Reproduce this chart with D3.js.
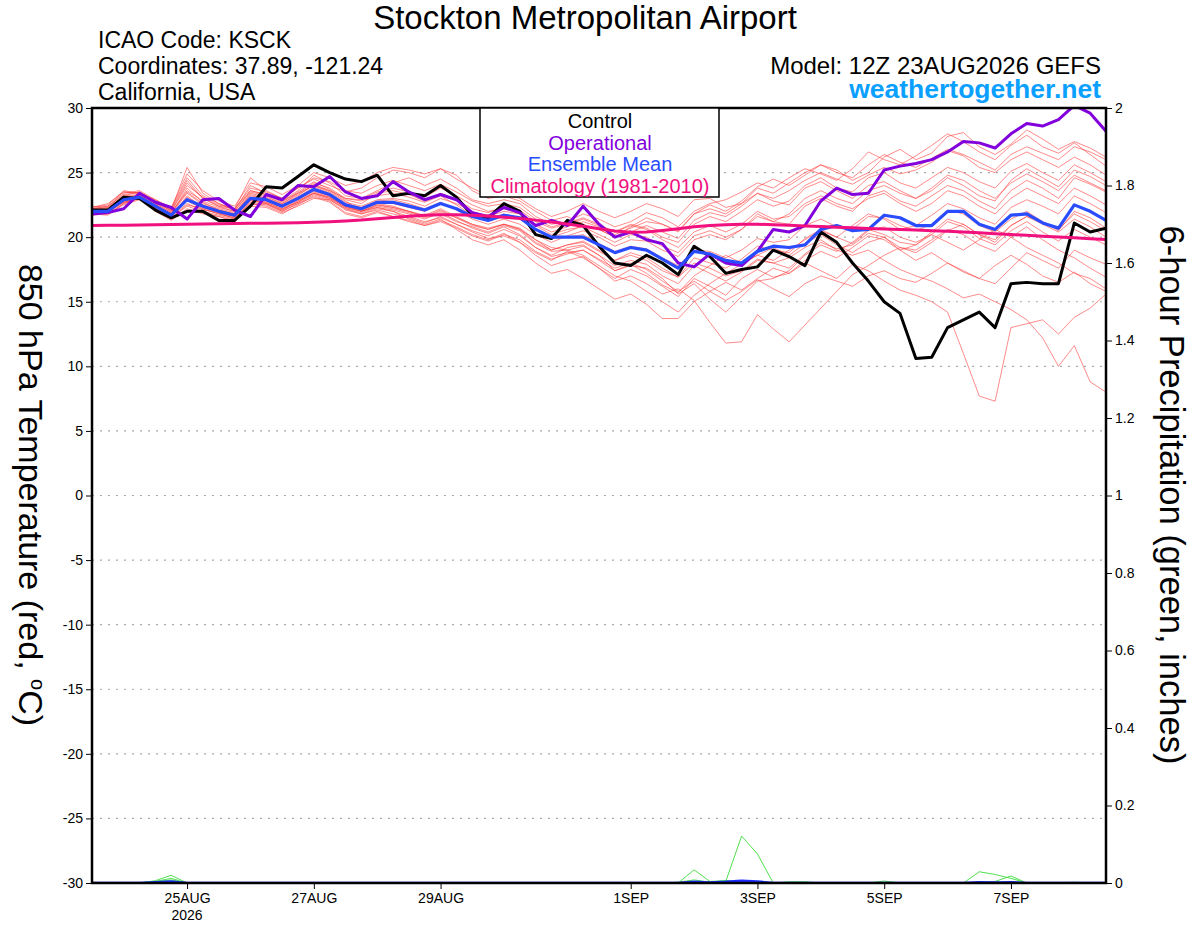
<!DOCTYPE html>
<html>
<head>
<meta charset="utf-8">
<script src="https://cdn.jsdelivr.net/npm/d3@7"></script>
<style>
  body { margin: 0; background: #fff; }
  svg { font-family: "Liberation Sans", Arial, sans-serif; }
</style>
</head>
<body>
<div id="chart"></div>
<script>
// GEFS 6-hourly run, 12Z 23AUG2026 .. 12Z 08SEP2026 (65 steps)
var runStart = Date.UTC(2026, 7, 23, 12);
var stepHours = 6;

// 850 hPa temperature, deg C
var control = [22.1,22.1,23.1,23.0,22.1,21.5,22.0,22.0,21.3,21.3,22.4,23.9,23.8,24.7,25.6,25.0,24.5,24.3,24.8,23.2,
  23.4,23.2,24.0,23.1,21.7,21.5,22.6,22.0,20.2,19.9,21.3,20.9,19.3,18.0,17.8,18.6,18.0,17.1,19.3,18.5,
  17.2,17.5,17.7,19.0,18.5,17.8,20.4,19.6,18.0,16.6,15.0,14.1,10.6,10.7,13.0,13.6,14.2,13.0,16.4,16.5,
  16.4,16.4,21.1,20.4,20.7];

var operational = [21.8,21.9,22.2,23.4,22.7,22.3,21.4,22.9,23.0,22.1,21.6,23.3,22.9,24.0,23.9,24.7,23.5,23.0,23.2,24.3,
  23.5,22.9,23.3,22.9,21.9,21.6,22.3,21.9,20.9,21.3,20.9,22.4,21.0,20.0,20.4,19.8,19.5,18.0,17.7,18.7,
  18.0,17.8,18.9,20.6,20.4,20.9,22.8,23.8,23.3,23.4,25.2,25.5,25.7,26.0,26.6,27.4,27.3,26.9,28.0,28.8,
  28.6,29.1,30.2,29.6,28.2];

var ensMean = [22.0,22.0,22.9,23.1,22.4,21.7,22.9,22.4,22.0,21.7,23.0,22.9,22.4,23.0,23.7,23.3,22.5,22.2,22.7,22.7,
  22.4,22.1,22.6,22.2,21.6,21.3,21.7,21.5,20.6,20.0,20.0,20.0,19.4,18.8,19.2,19.0,18.3,17.6,18.9,18.7,
  18.2,18.0,18.9,19.3,19.2,19.4,20.6,20.9,20.5,20.6,21.7,21.5,20.9,20.9,22.0,22.0,21.0,20.6,21.7,21.8,
  21.1,20.7,22.5,22.0,21.3];

var climatology = [20.90,20.92,20.93,20.95,20.96,20.98,21.00,21.02,21.03,21.05,21.07,21.08,21.10,21.12,21.15,21.19,21.25,21.32,21.42,21.52,
  21.62,21.70,21.74,21.74,21.70,21.63,21.55,21.45,21.32,21.18,21.02,20.85,20.65,20.47,20.38,20.40,20.52,20.66,20.80,20.90,
  20.96,21.00,21.00,20.97,20.92,20.87,20.82,20.77,20.72,20.68,20.64,20.60,20.55,20.50,20.45,20.40,20.34,20.27,20.20,20.14,
  20.08,20.02,19.95,19.88,19.82];

var m01 = [22.3,22.5,23.6,23.4,22.8,22.0,24.2,23.0,22.4,22.2,23.8,23.5,23.0,23.8,24.5,24.0,23.5,23.8,24.6,25.2,25.0,24.6,25.3,24.8,23.6,23.0,
  23.2,22.8,22.0,21.3,21.6,21.0,20.6,20.0,20.8,21.5,21.0,20.4,21.8,22.5,22.0,22.8,23.9,24.5,24.0,24.8,25.6,25.2,24.4,25.0,26.2,26.8,
  26.0,26.5,27.8,28.1,27.0,26.4,27.2,28.3,27.6,26.8,27.4,26.9,26.2];
var m02 = [21.9,21.8,22.6,23.0,22.1,21.4,22.0,21.9,21.6,21.3,22.5,22.6,22.0,22.6,23.1,22.7,21.8,21.5,21.9,21.6,21.2,20.9,21.3,20.8,20.2,19.8,
  20.3,19.6,18.8,18.2,18.9,18.4,17.6,16.8,17.5,17.0,16.2,15.4,16.8,16.2,15.5,16.8,17.5,16.9,17.2,18.0,17.4,16.8,17.9,17.4,16.6,15.9,
  15.5,15.0,14.2,11.0,7.7,7.3,13.0,13.3,13.6,12.5,13.8,14.5,15.6];
var m03 = [22.0,22.2,23.0,23.3,22.6,21.9,23.5,22.6,22.2,21.9,23.2,23.0,22.5,23.2,24.1,23.6,22.8,22.0,22.5,22.3,22.0,21.6,22.0,21.5,21.0,20.6,
  21.0,20.7,19.8,19.0,19.4,19.7,19.0,18.2,18.8,18.4,17.6,16.9,18.0,17.6,17.0,17.4,18.3,18.0,18.4,19.2,19.8,19.0,18.6,19.0,18.2,17.5,
  17.0,16.6,16.0,15.3,15.6,15.0,14.4,13.6,12.2,10.0,11.6,8.8,8.0];
var m04 = [21.8,21.9,22.7,23.0,22.2,21.5,22.5,22.2,21.8,21.5,22.6,22.4,21.9,22.4,23.0,22.9,22.2,21.8,22.2,22.0,21.6,21.2,21.5,21.0,20.4,19.9,
  20.1,19.6,18.6,17.8,18.2,18.5,17.6,16.6,17.0,16.4,15.6,16.0,15.1,13.4,11.8,11.9,14.0,12.9,11.9,13.2,14.5,15.8,17.1,17.8,18.6,19.2,
  18.8,19.6,20.5,21.0,20.2,19.8,20.9,21.6,21.2,20.6,21.8,21.2,20.5];
var m05 = [22.1,21.9,22.8,23.2,22.5,21.8,23.0,22.4,21.9,21.6,22.9,22.7,22.2,22.7,23.4,23.0,22.4,22.0,22.3,22.0,21.4,21.0,21.4,20.6,19.8,19.4,
  19.8,19.0,18.0,17.2,17.5,16.8,16.0,15.2,15.6,14.8,13.7,13.7,15.0,15.8,16.5,15.9,16.8,17.6,17.2,18.2,18.9,18.4,19.2,20.1,19.8,19.0,
  19.4,20.2,19.6,19.0,19.8,20.6,20.0,19.2,18.6,18.0,17.2,16.8,16.0];
var m06 = [22.4,22.3,23.4,23.6,22.9,22.2,24.6,23.2,22.6,22.1,24.0,23.4,22.8,23.6,24.8,24.2,23.2,23.0,23.6,24.2,24.6,24.0,24.5,23.8,22.9,22.6,
  22.9,22.6,21.6,21.0,21.2,21.8,21.4,20.8,21.2,21.9,21.5,20.8,22.0,22.6,22.9,23.5,24.2,23.8,24.6,25.3,24.9,24.4,25.3,26.6,26.0,25.6,
  26.3,27.1,28.0,27.4,26.6,26.0,27.1,27.9,27.0,26.5,27.3,26.4,25.5];
var m07 = [22.0,22.1,23.1,23.2,22.5,21.8,23.8,22.7,22.1,21.8,23.4,23.1,22.6,23.3,24.0,23.5,22.7,22.4,22.9,23.0,22.8,22.4,23.0,22.6,22.0,21.6,
  22.0,21.8,20.9,20.2,20.6,20.8,20.2,19.6,20.2,20.0,19.3,18.8,20.1,20.5,20.0,20.6,21.8,21.2,21.0,22.4,23.0,22.4,22.0,23.2,23.6,22.8,
  22.4,23.2,24.0,23.6,22.8,22.2,23.6,24.4,23.8,23.0,24.6,24.1,23.5];
var m08 = [21.7,21.8,22.5,22.9,22.3,21.6,22.6,22.1,21.9,21.4,22.8,22.6,22.1,22.8,23.4,23.1,22.3,22.0,22.4,22.2,21.9,21.5,21.8,21.2,20.8,20.4,
  20.9,20.5,19.5,18.9,19.0,19.3,18.6,17.8,18.2,17.9,17.0,16.4,17.8,17.2,16.6,17.3,18.2,18.0,17.6,18.7,19.6,19.1,19.4,20.3,20.0,19.2,
  19.0,19.8,20.6,20.2,19.4,18.9,20.0,20.8,19.8,19.0,18.4,17.6,16.9];
var m09 = [22.2,22.4,23.3,23.5,22.7,22.0,24.0,23.1,22.5,22.2,23.6,23.3,22.7,23.5,24.3,23.7,22.9,22.6,23.4,23.6,23.3,22.8,23.4,22.9,22.2,21.9,
  22.4,22.1,21.2,20.7,21.0,21.4,20.9,20.4,21.0,20.7,20.0,19.6,21.0,21.6,21.2,22.0,22.9,22.4,22.8,24.0,24.6,23.8,23.5,24.6,25.0,24.2,
  23.8,24.6,25.4,25.0,24.3,23.8,25.1,25.7,25.0,24.4,25.6,25.0,24.3];
var m10 = [21.9,22.0,22.8,23.1,22.3,21.6,23.2,22.3,22.0,21.6,23.0,22.8,22.3,22.9,23.6,23.2,22.4,22.1,22.6,22.4,22.0,21.7,22.2,21.6,21.0,20.7,
  21.0,20.6,19.8,19.2,19.0,18.6,17.8,17.0,16.6,15.8,15.0,14.2,15.5,16.4,17.2,17.9,18.6,18.2,19.0,19.8,20.5,20.0,20.9,21.8,21.4,20.6,
  20.9,21.7,22.6,22.2,21.5,21.0,22.3,22.9,22.4,21.8,23.2,22.6,21.9];
var m11 = [22.3,22.6,23.5,23.4,22.9,22.3,24.9,23.6,22.8,22.4,24.2,23.9,23.3,24.0,25.0,24.6,24.0,24.3,25.0,25.4,25.2,24.9,25.3,24.5,23.8,23.2,
  23.4,23.0,22.2,21.6,22.0,22.6,22.0,21.5,22.0,22.6,22.2,21.6,22.9,23.0,22.3,22.6,23.4,22.8,22.5,23.8,24.3,23.6,23.0,24.0,24.3,23.6,
  23.0,23.6,24.6,24.0,23.2,22.8,24.4,25.3,24.6,23.9,25.2,24.7,24.0];
var m12 = [21.8,21.7,22.6,23.0,22.0,21.3,22.2,21.8,21.6,21.2,22.4,22.3,21.8,22.5,23.2,22.8,21.9,21.6,22.0,21.6,21.3,20.9,21.2,20.7,20.1,19.7,
  20.2,19.8,18.9,18.3,18.7,19.0,18.2,17.4,17.9,17.2,16.3,15.7,17.0,17.8,18.6,18.0,18.6,19.2,18.6,19.5,20.2,19.4,18.8,19.6,20.0,19.0,
  18.2,18.8,18.0,17.3,16.8,17.8,18.6,17.9,17.0,16.5,17.3,16.4,15.8];
var m13 = [22.1,22.3,23.2,23.3,22.6,21.9,23.6,22.8,22.3,22.0,23.6,23.3,22.8,23.4,24.2,23.8,23.0,22.8,23.2,23.4,23.1,22.7,23.2,22.5,21.7,21.4,
  21.8,21.4,20.6,20.0,20.4,20.9,20.6,20.0,20.4,20.9,20.4,19.9,21.3,21.9,21.6,22.4,23.4,23.0,23.6,24.4,25.0,24.5,24.1,24.8,25.4,24.9,
  25.2,25.8,26.7,26.3,25.4,25.0,26.0,26.6,26.0,25.4,26.2,25.6,24.8];
var m14 = [22.0,21.9,22.9,23.1,22.4,21.7,22.9,22.4,22.0,21.7,23.1,22.9,22.4,23.0,23.6,23.2,22.4,22.1,22.7,22.6,22.3,22.0,22.6,22.2,21.6,21.3,
  21.7,21.5,20.6,19.9,20.0,20.2,19.5,18.9,19.3,19.1,18.4,17.8,19.0,18.9,18.4,19.0,19.9,19.6,19.8,20.9,21.4,20.8,20.6,21.6,21.5,20.9,
  20.5,21.0,22.1,21.8,20.9,20.4,21.4,22.0,21.2,20.5,22.0,21.5,20.7];
var m15 = [21.9,22.0,22.7,23.0,22.2,21.5,22.4,22.0,21.7,21.4,22.7,22.5,22.0,22.6,23.3,22.9,22.1,21.8,22.1,21.8,21.5,21.1,21.6,21.0,20.5,20.1,
  20.6,20.1,19.2,18.5,18.8,19.0,18.3,17.6,18.0,17.5,16.6,15.8,16.6,15.8,15.1,15.8,16.7,16.0,15.4,16.4,17.0,16.6,16.2,17.0,17.4,16.8,
  16.5,17.2,18.0,17.4,16.8,16.4,17.6,18.8,18.2,17.6,19.0,18.4,17.9];
var m16 = [22.2,22.2,23.2,23.5,22.8,22.1,24.4,23.0,22.4,22.0,23.5,23.2,22.6,23.4,24.0,23.6,23.0,22.9,23.5,23.8,23.5,23.1,23.8,23.2,22.5,22.0,
  22.2,21.8,21.0,20.4,20.8,21.2,20.8,20.2,20.7,21.2,21.0,20.5,21.8,22.2,21.8,22.6,23.8,23.4,24.2,25.0,25.6,25.0,24.6,25.6,26.4,25.8,
  25.4,26.1,26.8,26.4,25.8,25.2,26.4,27.0,26.5,26.0,27.0,26.6,26.0];
var m17 = [21.8,22.0,22.7,23.1,22.3,21.6,22.8,22.2,21.8,21.5,22.9,22.6,22.1,22.7,23.4,23.0,22.2,21.9,22.3,22.1,21.8,21.4,21.9,21.3,20.7,20.3,
  20.8,20.2,19.2,18.6,19.2,19.4,18.6,17.4,17.8,17.6,16.8,15.6,16.4,15.2,14.2,15.4,16.6,16.8,17.4,18.6,19.4,18.9,19.6,20.6,20.2,19.6,
  19.4,20.4,21.4,21.0,20.2,19.6,20.9,21.6,21.0,20.4,21.4,20.8,20.0];
var m18 = [22.1,22.1,23.0,23.2,22.4,21.8,23.4,22.5,22.1,21.8,23.3,23.0,22.5,23.1,23.9,23.4,22.6,22.3,22.8,22.9,22.6,22.2,22.7,22.1,21.4,21.0,
  21.4,21.0,20.2,19.6,20.1,20.5,20.0,19.3,19.8,19.7,19.0,18.5,19.8,20.2,19.8,20.6,21.6,21.2,21.8,23.0,23.6,23.0,22.6,23.6,24.0,23.4,
  23.0,23.8,24.8,24.4,23.6,23.0,24.2,24.9,24.3,23.6,24.8,24.2,23.6];
var m19 = [22.2,22.4,23.5,23.4,22.7,22.1,25.4,23.4,22.6,22.2,24.6,23.6,23.0,23.8,24.6,24.3,23.6,23.4,24.0,24.4,24.0,23.6,24.1,23.5,22.8,22.4,
  22.6,22.3,21.4,20.8,21.1,21.5,21.0,20.4,20.9,20.6,19.8,19.2,20.4,20.9,20.4,21.0,22.0,21.4,21.6,22.6,23.2,22.6,22.2,23.0,23.4,22.6,
  22.0,22.6,23.6,23.2,22.4,21.8,23.0,23.8,23.2,22.6,23.8,23.2,22.5];
var m20 = [21.9,22.1,22.8,23.1,22.3,21.6,23.1,22.3,21.9,21.6,22.9,22.7,22.2,22.8,23.5,23.1,22.3,22.0,22.5,22.3,22.0,21.6,22.1,21.5,20.9,20.6,
  21.0,20.6,19.6,19.0,19.4,19.6,18.9,18.2,18.6,18.2,17.4,16.9,18.4,18.0,17.6,18.3,19.3,19.0,18.8,19.9,20.6,20.0,19.5,20.5,20.8,20.0,
  19.6,20.2,21.2,20.8,19.9,19.4,20.5,21.2,20.4,19.7,20.6,20.0,19.4];
var members = [m01,m02,m03,m04,m05,m06,m07,m08,m09,m10,m11,m12,m13,m14,m15,m16,m17,m18,m19,m20];

// 6-hour precipitation, inches (members with any rain; the rest stay at 0)
var p01 = [0,0,0,0,0.006,0.020,0,0,0,0,0,0,0,0,0,0,0,0,0,0,0,0,0,0,0,0,0,0,0,0,0,0,0,0,0,0,0,0,0,0,
  0.004,0.121,0.075,0,0.003,0.003,0,0,0,0,0,0,0,0,0,0,0,0,0,0,0,0,0,0,0];
var p02 = [0,0,0,0,0.004,0.012,0,0,0,0,0,0,0,0,0,0,0,0,0,0,0,0,0,0,0,0,0,0,0,0,0,0,0,0,0,0,0,0,0.034,0.004,
  0.006,0.002,0,0,0,0,0,0,0,0,0,0,0,0,0,0,0,0,0,0,0,0,0,0,0];
var p03 = [0,0,0,0,0.003,0.008,0,0,0,0,0,0,0,0,0,0,0,0,0,0,0,0,0,0,0,0,0,0,0,0,0,0,0,0,0,0,0,0.002,0.008,0.002,
  0.006,0.002,0,0,0,0,0,0,0,0,0.005,0,0,0,0,0,0,0,0,0,0,0,0,0,0];
var p04 = [0,0,0,0,0,0.005,0,0,0,0,0,0,0,0,0,0,0,0,0,0,0,0,0,0,0,0,0,0,0,0,0,0,0,0,0,0,0,0,0,0,
  0,0,0,0,0,0,0,0,0,0,0,0,0,0,0,0,0.029,0.022,0.012,0,0,0,0,0,0];
var p05 = [0,0,0,0,0,0,0,0,0,0,0,0,0,0,0,0,0,0,0,0,0,0,0,0,0,0,0,0,0,0,0,0,0,0,0,0,0,0,0,0,
  0,0,0,0,0,0,0,0,0,0,0,0,0,0,0,0,0,0.004,0.018,0,0,0,0.002,0,0];
var precipMembers = [p01,p02,p03,p04,p05];
var precipMean = [0,0,0,0,0.002,0.004,0,0,0,0,0,0,0,0,0,0,0,0,0,0,0,0,0,0,0,0,0,0,0,0,0,0,0,0,0,0,0,0,0.003,0.001,
  0.003,0.006,0.004,0,0,0,0,0,0,0,0,0,0,0,0,0,0.002,0.001,0.002,0,0,0,0,0,0];

var tempTicks = [-30,-25,-20,-15,-10,-5,0,5,10,15,20,25,30];
var precipTicks = [0,0.2,0.4,0.6,0.8,1,1.2,1.4,1.6,1.8,2];
var precipTickLabels = ["0","0.2","0.4","0.6","0.8","1","1.2","1.4","1.6","1.8","2"];
var dateTicks = [Date.UTC(2026,7,25), Date.UTC(2026,7,27), Date.UTC(2026,7,29), Date.UTC(2026,8,1),
  Date.UTC(2026,8,3), Date.UTC(2026,8,5), Date.UTC(2026,8,7)];
var dateTickLabels = ["25AUG","27AUG","29AUG","1SEP","3SEP","5SEP","7SEP"];

var width = 1200, height = 927;
var plotL = 92, plotR = 1106, plotT = 108, plotB = 883;

var svg = d3.select('#chart')
  .append('svg')
  .attr('width', width)
  .attr('height', height);

var times = control.map(function(d, i) {
  return new Date(runStart + i * stepHours * 3600000);
});

var x = d3.scaleUtc()
  .domain([times[0], times[times.length - 1]])
  .range([plotL, plotR]);
var yT = d3.scaleLinear().domain([-30, 30]).range([plotB, plotT]);
var yP = d3.scaleLinear().domain([0, 2]).range([plotB, plotT]);

svg.append('defs').append('clipPath').attr('id', 'plotclip')
  .append('rect')
  .attr('x', plotL).attr('y', plotT)
  .attr('width', plotR - plotL).attr('height', plotB - plotT);

// dotted grid on the temperature ticks
svg.append('g')
  .selectAll('line')
  .data(tempTicks.filter(function(d) { return d > -30 && d < 30; }))
  .enter()
  .append('line')
  .attr('x1', plotL).attr('x2', plotR)
  .attr('y1', function(d) { return yT(d); })
  .attr('y2', function(d) { return yT(d); })
  .attr('stroke', '#a8a8a8')
  .attr('stroke-width', 1.2)
  .attr('stroke-dasharray', '2,6');

var tline = d3.line()
  .x(function(d, i) { return x(times[i]); })
  .y(function(d) { return yT(d); });
var pline = d3.line()
  .x(function(d, i) { return x(times[i]); })
  .y(function(d) { return yP(d); });

var plot = svg.append('g').attr('clip-path', 'url(#plotclip)');

plot.selectAll('.member')
  .data(members)
  .enter()
  .append('path')
  .attr('class', 'member')
  .attr('d', tline)
  .attr('fill', 'none')
  .attr('stroke', '#ff3c3c')
  .attr('stroke-opacity', 0.75)
  .attr('stroke-width', 0.8);

var mains = [
  {data: control, color: '#000000', w: 3},
  {data: operational, color: '#8200dc', w: 3},
  {data: ensMean, color: '#2a4cff', w: 3.2},
  {data: climatology, color: '#f0107e', w: 3}
];
mains.forEach(function(s) {
  plot.append('path')
    .attr('d', tline(s.data))
    .attr('fill', 'none')
    .attr('stroke', s.color)
    .attr('stroke-width', s.w)
    .attr('stroke-linejoin', 'round');
});

// frame
svg.append('rect')
  .attr('x', plotL).attr('y', plotT)
  .attr('width', plotR - plotL).attr('height', plotB - plotT)
  .attr('fill', 'none')
  .attr('stroke', '#000')
  .attr('stroke-width', 2.5);

// precipitation on the right axis
plot.selectAll('.pmember')
  .data(precipMembers)
  .enter()
  .append('path')
  .attr('class', 'pmember')
  .attr('d', pline)
  .attr('fill', 'none')
  .attr('stroke', '#3cdc3c')
  .attr('stroke-width', 0.9);
plot.append('path')
  .attr('d', pline(precipMean))
  .attr('fill', 'none')
  .attr('stroke', '#1a2cff')
  .attr('stroke-width', 2.5);

// axes
var axL = svg.append('g')
  .attr('transform', 'translate(' + plotL + ',0)')
  .call(d3.axisLeft(yT).tickValues(tempTicks).tickSize(6).tickPadding(3)
    .tickFormat(function(d) { return String(d); }));
var axR = svg.append('g')
  .attr('transform', 'translate(' + plotR + ',0)')
  .call(d3.axisRight(yP).tickValues(precipTicks).tickSize(6).tickPadding(3)
    .tickFormat(function(d, i) { return precipTickLabels[i]; }));
var axB = svg.append('g')
  .attr('transform', 'translate(0,' + plotB + ')')
  .call(d3.axisBottom(x).tickValues(dateTicks.map(function(d) { return new Date(d); }))
    .tickSize(6).tickPadding(4)
    .tickFormat(function(d, i) { return dateTickLabels[i]; }));

[axL, axR, axB].forEach(function(a) {
  a.select('.domain').remove();
  a.selectAll('text').attr('font-size', 14).attr('fill', '#000')
    .attr('font-family', '"Liberation Sans", Arial, sans-serif');
  a.selectAll('line').attr('stroke', '#000');
});
axB.append('text')
  .attr('x', x(new Date(dateTicks[0])))
  .attr('y', 37)
  .attr('text-anchor', 'middle')
  .attr('font-size', 14)
  .attr('fill', '#000')
  .text('2026');

// titles and header text
svg.append('text').attr('x', 585).attr('y', 29).attr('text-anchor', 'middle')
  .attr('font-size', 33).text('Stockton Metropolitan Airport');

var info = ['ICAO Code: KSCK', 'Coordinates: 37.89, -121.24', 'California, USA'];
svg.selectAll('.info')
  .data(info)
  .enter()
  .append('text')
  .attr('class', 'info')
  .attr('x', 98)
  .attr('y', function(d, i) { return 48 + i * 26; })
  .attr('font-size', 23)
  .text(function(d) { return d; });

svg.append('text').attr('x', 1101).attr('y', 74).attr('text-anchor', 'end')
  .attr('font-size', 24).text('Model: 12Z 23AUG2026 GEFS');
svg.append('text').attr('x', 1101).attr('y', 98).attr('text-anchor', 'end')
  .attr('font-size', 26.5).attr('font-weight', 'bold').attr('fill', '#0aa0ff')
  .text('weathertogether.net');

// legend box
var legendItems = [
  {label: 'Control', color: '#000000'},
  {label: 'Operational', color: '#8200dc'},
  {label: 'Ensemble Mean', color: '#2a4cff'},
  {label: 'Climatology (1981-2010)', color: '#f0107e'}
];
svg.append('rect')
  .attr('x', 480).attr('y', plotT)
  .attr('width', 239).attr('height', 89)
  .attr('fill', '#fff').attr('stroke', '#000').attr('stroke-width', 1.5);
svg.selectAll('.leg')
  .data(legendItems)
  .enter()
  .append('text')
  .attr('class', 'leg')
  .attr('x', 600)
  .attr('y', function(d, i) { return 128 + i * 21.5; })
  .attr('text-anchor', 'middle')
  .attr('font-size', 20)
  .attr('fill', function(d) { return d.color; })
  .text(function(d) { return d.label; });

// axis titles, both read top to bottom
var lt = svg.append('text')
  .attr('transform', 'translate(19,495) rotate(90)')
  .attr('text-anchor', 'middle')
  .attr('font-size', 34);
lt.append('tspan').text('850 hPa Temperature (red, ');
lt.append('tspan').attr('font-size', 20).attr('dy', -12).text('o');
lt.append('tspan').attr('dy', 12).text('C)');

svg.append('text')
  .attr('transform', 'translate(1160,495) rotate(90)')
  .attr('text-anchor', 'middle')
  .attr('font-size', 34.5)
  .text('6-hour Precipitation (green, inches)');
</script>
</body>
</html>
